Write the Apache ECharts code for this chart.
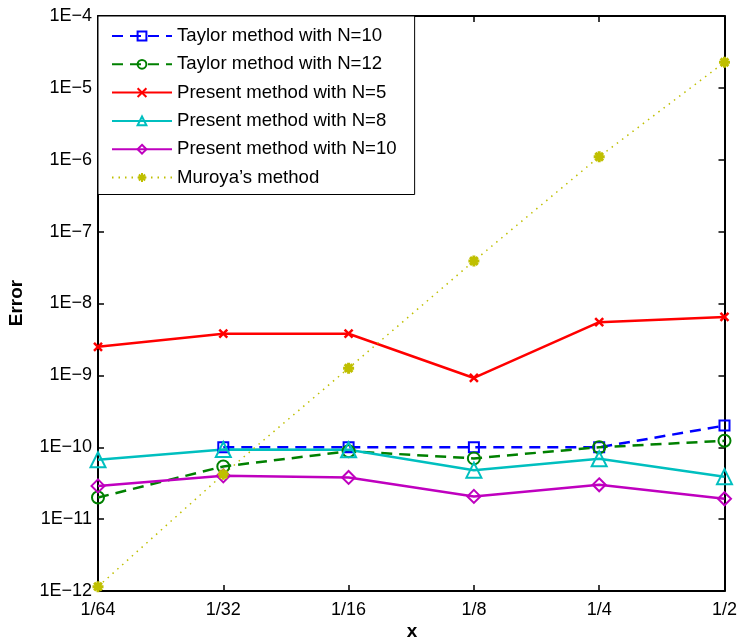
<!DOCTYPE html>
<html>
<head>
<meta charset="utf-8">
<script src="https://cdn.jsdelivr.net/npm/echarts@6/dist/echarts.min.js"></script>
<style>
html,body{margin:0;padding:0;background:#fff;}
#chart{width:740px;height:639px;}
</style>
</head>
<body>
<div id="chart"></div>
<script>
// ---- data ----
var categories = ['1/64', '1/32', '1/16', '1/8', '1/4', '1/2'];
var taylor10  = [null, 1.0e-10, 1.0e-10, 1.0e-10, 1.0e-10, 2.0e-10];
var taylor12  = [2.0e-11, 5.4e-11, 8.8e-11, 7.0e-11, 1.0e-10, 1.23e-10];
var present5  = [2.5e-9, 3.8e-9, 3.8e-9, 9.2e-10, 5.5e-9, 6.5e-9];
var present8  = [6.7e-11, 9.3e-11, 9.2e-11, 4.8e-11, 6.9e-11, 3.9e-11];
var present10 = [2.9e-11, 4.0e-11, 3.8e-11, 2.07e-11, 3.0e-11, 1.92e-11];
var muroya    = [1.15e-12, 4.2e-11, 1.26e-9, 3.9e-8, 1.1e-6, 2.27e-5];
var seriesNames = ['Taylor method with N=10', 'Taylor method with N=12', 'Present method with N=5',
                   'Present method with N=8', 'Present method with N=10', "Muroya\u2019s method"];
var yMin = 1e-12, yMax = 1e-4;

var FONT = '"Liberation Sans", Arial, Helvetica, sans-serif';
var chart = echarts.init(document.getElementById('chart'), null, {renderer: 'canvas'});

function hollow(name, data, color, symbol, size, dashed) {
  return {
    name: name, type: 'line', data: data, xAxisIndex: 0, yAxisIndex: 0,
    symbol: symbol, symbolSize: size, showAllSymbol: true, connectNulls: false,
    lineStyle: {color: color, width: 2.5, type: dashed ? [11, 7] : 'solid'},
    itemStyle: {color: 'rgba(0,0,0,0)', borderColor: color, borderWidth: 2},
    emphasis: {disabled: true}, animation: false
  };
}
var xPath = 'path://M0,0L10,10M10,0L0,10';
var starPath = 'path://M5,0L5,10M0,5L10,5M1.5,1.5L8.5,8.5M8.5,1.5L1.5,8.5';

var series = [
  hollow(seriesNames[0], taylor10, '#0000ff', 'rect', 10, true),
  hollow(seriesNames[1], taylor12, '#008000', 'circle', 12, true),
  {
    name: seriesNames[2], type: 'line', data: present5, symbol: xPath, symbolSize: 8,
    lineStyle: {color: '#ff0000', width: 2.5},
    itemStyle: {color: 'rgba(0,0,0,0)', borderColor: '#ff0000', borderWidth: 2.5},
    emphasis: {disabled: true}, animation: false
  },
  hollow(seriesNames[3], present8, '#00bfbf', 'triangle', 15, false),
  hollow(seriesNames[4], present10, '#bf00bf', 'diamond', 13, false),
  {
    name: seriesNames[5], type: 'line', data: muroya, symbol: starPath, symbolSize: 11,
    lineStyle: {color: '#bfbf00', width: 1.5, type: [1.5, 5]},
    itemStyle: {color: '#bfbf00', borderColor: '#bfbf00', borderWidth: 3},
    emphasis: {disabled: true}, animation: false
  }
];

var axisLineStyle = {show: true, lineStyle: {color: '#000', width: 2}};
var tickStyle = {color: '#000', width: 1.5};
var option = {
  backgroundColor: '#fff',
  animation: false,
  grid: {left: 98, right: 13, top: 16, bottom: 48, containLabel: false},
  xAxis: [{
    type: 'category', data: categories, boundaryGap: false, position: 'bottom',
    axisLine: axisLineStyle,
    axisTick: {show: true, inside: true, length: 6, alignWithLabel: true, lineStyle: tickStyle},
    axisLabel: {color: '#000', fontSize: 18, fontFamily: FONT, margin: 10, interval: 0},
    splitLine: {show: false}
  }, {
    type: 'category', data: categories, boundaryGap: false, position: 'top',
    axisLine: axisLineStyle,
    axisTick: {show: true, inside: true, length: 6, lineStyle: tickStyle},
    axisLabel: {show: false}, splitLine: {show: false}
  }],
  yAxis: [{
    type: 'log', logBase: 10, min: yMin, max: yMax, interval: 1, position: 'left',
    axisLine: axisLineStyle,
    axisTick: {show: true, inside: true, length: 6, lineStyle: tickStyle},
    axisLabel: {color: '#000', fontSize: 18, fontFamily: FONT, margin: 6,
      formatter: function (v) { return '1E\u2212' + Math.round(-Math.log10(v)); }},
    splitLine: {show: false}, minorTick: {show: false}
  }, {
    type: 'log', logBase: 10, min: yMin, max: yMax, interval: 1, position: 'right',
    axisLine: axisLineStyle,
    axisTick: {show: true, inside: true, length: 6, lineStyle: tickStyle},
    axisLabel: {show: false}, splitLine: {show: false}
  }],
  legend: {
    orient: 'vertical', left: 98, top: 16,
    data: seriesNames,
    itemWidth: 60, itemHeight: 11, itemGap: 8.3,
    padding: [10, 18, 7, 13],
    borderColor: '#000', borderWidth: 1, backgroundColor: '#fff',
    textStyle: {color: '#000', fontSize: 18.6, fontFamily: FONT, lineHeight: 20},
    selectedMode: false
  },
  graphic: [
    {type: 'text', x: 17, y: 303, rotation: Math.PI / 2,
     style: {text: 'Error', fill: '#000', font: 'bold 19px ' + FONT, textAlign: 'center', textVerticalAlign: 'middle'}},
    {type: 'text', x: 412, y: 632,
     style: {text: 'x', fill: '#000', font: 'bold 19px ' + FONT, textAlign: 'center', textVerticalAlign: 'middle'}}
  ],
  series: series
};
chart.setOption(option);
</script>
</body>
</html>
